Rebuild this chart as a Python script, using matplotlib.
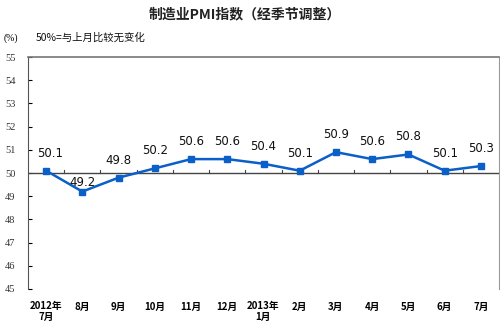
import matplotlib

matplotlib.use("Agg")
import matplotlib.pyplot as plt
import numpy as np

plt.rcParams["font.family"] = ["Noto Sans CJK SC", "DejaVu Sans"]

# data
months = ["2012年\n7月", "8月", "9月", "10月", "11月", "12月", "2013年\n1月",
          "2月", "3月", "4月", "5月", "6月", "7月"]
pmi = [50.1, 49.2, 49.8, 50.2, 50.6, 50.6, 50.4, 50.1, 50.9, 50.6, 50.8, 50.1, 50.3]
yticks = [45, 46, 47, 48, 49, 50, 51, 52, 53, 54, 55]

BLUE = "#0a5fc8"

fig = plt.figure(figsize=(5.0, 3.28), dpi=100)
ax = fig.add_axes([0.056, 0.119, 0.942, 0.707])

x = np.arange(len(months))
ax.plot(x, pmi, color=BLUE, lw=1.8, marker="s", ms=5, mfc=BLUE, mec=BLUE, zorder=3)

for i, v in enumerate(pmi):
    dy = 2 if v < 49.5 else 8
    ax.annotate(f"{v:.1f}", (i, v), xytext=(3 if i == 0 else 0, dy),
                textcoords="offset points", ha="center", va="bottom",
                fontsize=8.5, family="DejaVu Sans", color="#111111")

ax.set_xlim(-0.5, len(months) - 0.5)
ax.set_ylim(45, 55)
ax.set_yticks(yticks)
ax.set_yticklabels([str(t) for t in yticks], family="Liberation Serif",
                   fontsize=7.5, color="#333333")
ax.tick_params(axis="y", direction="in", length=3, width=0.8, pad=9)

# x axis sits on the 50 line, with category boundary ticks
ax.set_xticks(x)
ax.set_xticklabels(months, fontsize=7, fontweight="semibold", linespacing=1.1)
ax.tick_params(axis="x", length=0, pad=9)
ax.axhline(50, color="#444444", lw=1, zorder=2)
for b in np.arange(0.5, len(months) - 1, 1):
    ax.plot([b, b], [50, 50.12], color="#444444", lw=0.8, zorder=2)

ax.spines["bottom"].set_visible(False)
ax.spines["left"].set_color("#555555")
ax.spines["top"].set_color("#777777")
ax.spines["top"].set_linewidth(1.2)
ax.spines["right"].set_color("#999999")
ax.spines["right"].set_linestyle((0, (1, 1)))
ax.spines["right"].set_linewidth(0.8)

fig.text(0.49, 0.955, "制造业PMI指数（经季节调整）", ha="center", va="center",
         fontsize=10, fontweight="bold", color="#222222")
fig.text(0.008, 0.885, "(%)", ha="left", va="center", fontsize=7,
         family="Liberation Serif")
fig.text(0.072, 0.885, "50%=与上月比较无变化", ha="left", va="center",
         fontsize=7.5, color="#111111")

fig.savefig("out.png", dpi=100)
